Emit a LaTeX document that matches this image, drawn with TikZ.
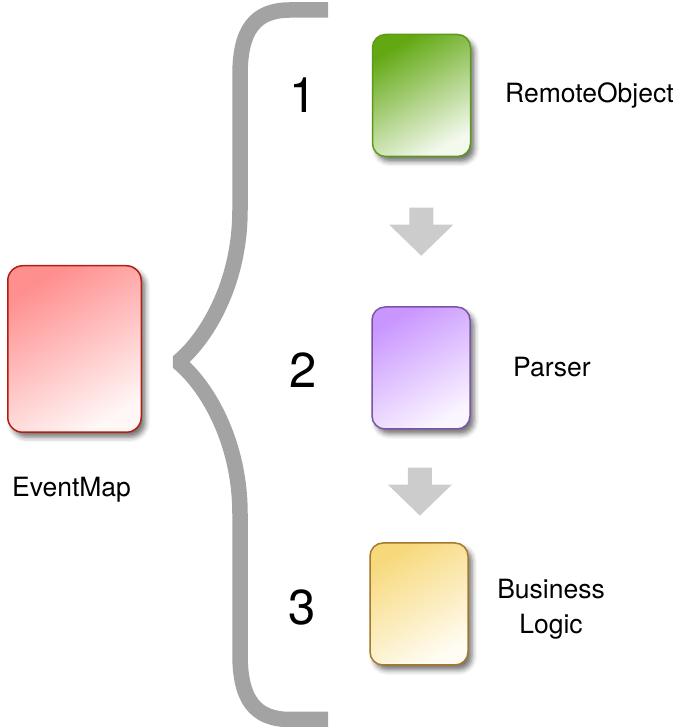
\documentclass[tikz,border=0pt]{standalone}
\usepackage{fontspec}
\setmainfont{TeX Gyre Heros}
\usetikzlibrary{shadows.blur,calc}

\definecolor{braceGray}{HTML}{A3A3A3}
\definecolor{arrowGray}{HTML}{CCCCCC}
\definecolor{redTop}{HTML}{FF8E8E}
\definecolor{redBot}{HTML}{FFF6F6}
\definecolor{redLine}{HTML}{B0200F}
\definecolor{greenTop}{HTML}{62A812}
\definecolor{greenBot}{HTML}{F4F9EE}
\definecolor{greenLine}{HTML}{5E9A16}
\definecolor{purpleTop}{HTML}{C996FF}
\definecolor{purpleBot}{HTML}{FAF5FF}
\definecolor{purpleLine}{HTML}{7A55A6}
\definecolor{yellowTop}{HTML}{F7D97C}
\definecolor{yellowBot}{HTML}{FFFCF3}
\definecolor{yellowLine}{HTML}{A5782A}

\begin{document}
\begin{tikzpicture}[x=1pt,y=1pt,
  card/.style={rounded corners=13pt, line width=1.5pt, inner sep=0pt,
    draw=#1Line, top color=#1Top, bottom color=#1Bot, shading angle=30,
    blur shadow={shadow xshift=4pt, shadow yshift=-5pt,
                 shadow blur radius=5pt, shadow opacity=55}},
  cardsize/.style={minimum width=98pt, minimum height=122pt},
  caption/.style={font=\fontsize{26.5}{35}\selectfont, inner sep=0pt},
  digit/.style={font=\fontsize{49}{50}\selectfont, inner sep=0pt, anchor=base},
  brace/.style={draw=braceGray, line width=15.5pt, line join=bevel},
  blockarrow/.pic={\fill[arrowGray] (-12,24) -- (12,24) -- (12,7) -- (32,7)
                   -- (0,-24) -- (-32,7) -- (-12,7) -- cycle;}]
\useasboundingbox (0,0) rectangle (686,727);

% the curly brace grouping the three stages
\draw[brace] (328,717) -- (290,717)
  .. controls (255,717) and (240,697) .. (240,652) -- (240,517)
  .. controls (240,442) and (205,387) .. (178,365)
  .. controls (205,343) and (240,288) .. (240,213) -- (240,72.5)
  .. controls (240,27.5) and (255,7.5) .. (290,7.5) -- (328,7.5);

% boxes
\node[card=red, rounded corners=15pt,
      minimum width=133.5pt, minimum height=166.5pt]
      (eventmap) at (74.5,378) {};
\node[card=green, cardsize] (remote) at (421.5,631.5) {};
\node[card=purple, cardsize] (parser) at (421,359) {};
\node[card=yellow, cardsize] (logic) at (419,123) {};

% flow arrows between the stages
\pic at ($(remote.south)!0.5!(parser.north)$) {blockarrow};
\pic at ($(parser.south)!0.55!(logic.north)$) {blockarrow};

% step numbers
\node[digit] (n1) at (303.5,614) {1};
\node[digit] (n2) at (303.5,339) {2};
\node[digit] (n3) at (302,102) {3};

% captions
\node[caption, anchor=base] (eventmapLabel) at (71.5,230) {EventMap};
\node[caption, anchor=base west] (remoteLabel) at (505,624) {RemoteObject};
\node[caption, anchor=base west] (parserLabel) at (513,350) {Parser};
\node[caption, align=center] (logicLabel) at (551,118) {Business\\Logic};
\end{tikzpicture}
\end{document}
